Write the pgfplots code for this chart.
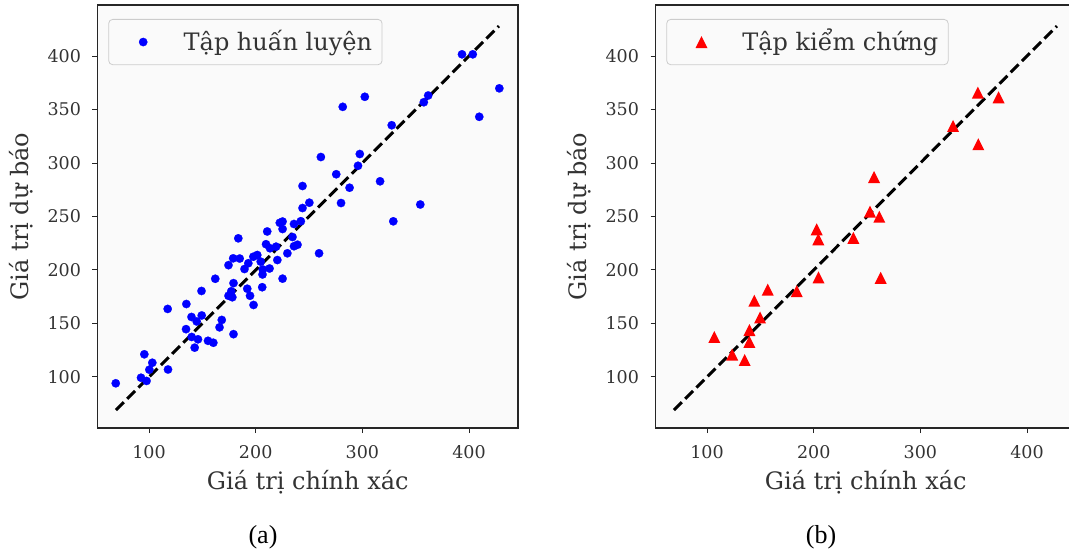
\documentclass[border=0pt]{standalone}
\usepackage{fontspec}
\setmainfont{DejaVu Serif}
\newfontfamily\capfont{Liberation Serif}
\usepackage{pgfplots}
\pgfplotsset{compat=1.18}
\definecolor{bgc}{HTML}{FAFAFA}
\definecolor{txt}{HTML}{333333}
\definecolor{legedge}{HTML}{CCCCCC}

\pgfdeclareplotmark{mtri}{%
 \pgfpathmoveto{\pgfqpoint{0pt}{\pgfplotmarksize}}%
 \pgfpathlineto{\pgfqpoint{-\pgfplotmarksize}{-\pgfplotmarksize}}%
 \pgfpathlineto{\pgfqpoint{\pgfplotmarksize}{-\pgfplotmarksize}}%
 \pgfpathclose\pgfusepathqfill}

\pgfplotsset{
 myaxis/.style={
  scale only axis, width=420.5pt, height=423pt,
  xmin=51.7, xmax=445.9, ymin=52.3, ymax=447.7,
  axis background/.style={fill=bgc},
  axis line style={black!85, line width=1.2pt},
  tick align=outside, xtick pos=left, ytick pos=left,
  major tick length=5pt,
  every tick/.style={black!85, line width=1pt},
  xtick={100,200,300,400}, ytick={100,150,...,400},
  tick label style={font=\fontsize{17.5}{20}\selectfont, text=txt},
  yticklabel style={xshift=-8pt},
  xticklabel style={yshift=-9pt},
  /pgf/number format/assume math mode=true,
  label style={font=\fontsize{24}{28}\selectfont, text=txt},
  xlabel={Giá trị chính xác}, ylabel={Giá trị dự báo},
  xlabel style={at={(axis description cs:0.5,-0.146)}, anchor=base},
  ylabel style={at={(axis description cs:-0.1807,0.5)}, anchor=center},
  legend style={at={(axis description cs:0.0257,0.9669)}, anchor=north west,
    draw=legedge, fill=bgc, rounded corners=4pt, line width=0.8pt,
    inner xsep=10pt, inner ysep=10pt, column sep=16pt,
    font=\fontsize{24}{28}\selectfont, text=txt,
    nodes={inner sep=0pt, text height=21pt, text depth=4.3pt}},
  legend image code/.code={\path (0pt,0pt) (48.8pt,0pt); \draw[##1] plot coordinates {(24.4pt,0pt)};},
 }
}

\begin{document}
\begin{tikzpicture}
\path[use as bounding box] (0,0) rectangle (1069pt,555pt);
\begin{axis}[myaxis, at={(97.5pt,127pt)}, anchor=south west]
\addplot[only marks, mark=*, mark size=4.2pt, color=blue, line width=0.2pt] coordinates {
(68.8,94.1) (92.5,99.3) (97.7,96.3) (95.6,121.2) (103.1,113.3) (100.3,106.8) (117.8,107.0)
(117.5,163.6) (135.0,168.2) (149.2,180.4) (162.1,191.8) (139.8,156.1) (149.4,157.5)
(134.7,144.7) (144.7,151.9) (140.0,137.4) (145.9,135.2) (142.8,127.4) (155.3,133.8)
(160.3,132.0) (168.2,153.3) (166.1,146.4) (179.2,140.0) (174.5,175.9) (178.1,174.5)
(177.1,180.1) (179.2,187.7) (192.1,182.5) (194.7,175.9) (198.0,167.3) (206.1,183.9)
(225.2,191.9) (174.5,204.5) (178.9,210.9) (185.0,210.7) (183.7,229.6) (189.5,200.9)
(193.1,206.3) (197.8,212.4) (201.5,214.0) (204.7,207.8) (206.4,195.8) (206.6,200.5)
(213.0,201.4) (209.7,224.1) (213.4,220.3) (210.8,236.0) (220.3,209.3) (229.7,215.6)
(222.6,244.1) (225.2,245.3) (225.2,238.3) (235.9,243.0) (242.3,245.6) (234.5,230.8)
(235.9,222.2) (239.2,223.6) (243.9,257.9) (250.3,262.9) (259.4,215.6) (243.9,278.5)
(280.0,262.6) (288.0,276.9) (316.6,282.9) (329.0,245.5) (354.3,261.2) (393.4,401.6)
(403.5,401.6) (428.4,369.8) (409.6,343.2) (361.7,363.1) (357.6,356.8) (302.3,361.9)
(281.6,352.5) (327.5,335.3) (261.1,305.6) (297.6,308.4) (295.9,297.4) (275.5,289.5)
(219.1,221.8)
};
\addlegendentry{Tập huấn luyện}
\addplot[black, line width=3pt, dash pattern=on 11.1pt off 4.8pt, forget plot] coordinates {(69,69) (428,428)};
\end{axis}
\begin{axis}[myaxis, at={(655.5pt,127pt)}, anchor=south west]
\addplot[only marks, mark=mtri, mark size=6pt, color=red] coordinates {
(353.9,365.9) (373.3,361.4) (330.6,334.6) (354.3,317.6) (256.6,286.9) (252.8,254.5)
(261.5,249.8) (202.8,238.0) (204.3,228.7) (237.2,230.1) (204.5,193.0) (262.8,192.7)
(156.9,181.6) (184.1,180.2) (144.3,171.3) (149.7,155.6) (139.8,143.9) (139.7,132.7)
(106.8,137.4) (123.6,121.0) (135.3,115.9)
};
\addlegendentry{Tập kiểm chứng}
\addplot[black, line width=3pt, dash pattern=on 11.1pt off 4.8pt, forget plot] coordinates {(69,69) (428,428)};
\end{axis}
\node[font=\capfont\fontsize{26}{30}\selectfont] at (263pt,18pt) {(a)};
\node[font=\capfont\fontsize{26}{30}\selectfont] at (821pt,18pt) {(b)};
\end{tikzpicture}
\end{document}
